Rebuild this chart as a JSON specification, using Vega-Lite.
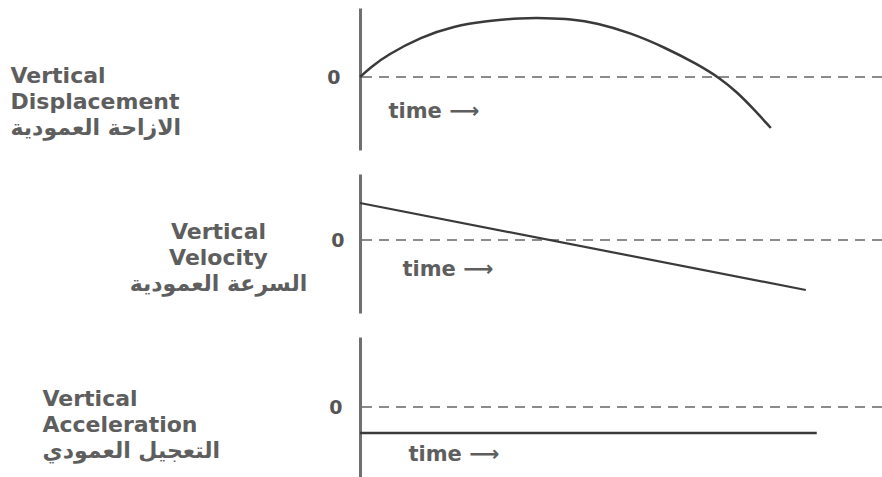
{
  "$schema": "https://vega.github.io/schema/vega-lite/v6.json",
  "padding": {"left": 10, "top": 8, "right": 0, "bottom": 0},
  "background": "white",
  "spacing": 24,
  "bounds": "flush",
  "config": {
    "view": {"stroke": null},
    "font": "DejaVu Sans",
    "axis": {
      "grid": false,
      "domainColor": "#707070",
      "domainWidth": 3,
      "ticks": false,
      "tickSize": 0,
      "labelFont": "DejaVu Sans",
      "labelFontWeight": "bold",
      "labelFontSize": 19,
      "labelColor": "#555555",
      "titleFont": "DejaVu Sans",
      "titleFontWeight": "bold",
      "titleColor": "#5e5e5e"
    }
  },
  "datasets": {
    "displacement": [
      {"time": 0, "value": 0},
      {"time": 0.21, "value": 1.0},
      {"time": 0.52, "value": 2.2},
      {"time": 1.17, "value": 4.0},
      {"time": 1.8, "value": 5.1},
      {"time": 2.43, "value": 5.6},
      {"time": 3.08, "value": 5.9},
      {"time": 3.54, "value": 5.9},
      {"time": 4.04, "value": 5.8},
      {"time": 4.54, "value": 5.4},
      {"time": 5.19, "value": 4.4},
      {"time": 5.82, "value": 3.0},
      {"time": 6.46, "value": 1.3},
      {"time": 6.92, "value": -0.2},
      {"time": 7.22, "value": -1.5},
      {"time": 7.55, "value": -3.25},
      {"time": 7.87, "value": -5.1}
    ],
    "velocity": [
      {"time": 0, "value": 3.7},
      {"time": 8.54, "value": -5.0}
    ],
    "acceleration": [
      {"time": 0, "value": -2.6},
      {"time": 8.75, "value": -2.6}
    ],
    "zero": [{"value": 0}]
  },
  "vconcat": [
    {
      "width": 522,
      "height": 142,
      "layer": [
        {
          "data": {"name": "zero"},
          "mark": {"type": "rule", "strokeDash": [10, 7], "color": "#666666", "strokeWidth": 1.5},
          "encoding": {
            "y": {
              "field": "value", "type": "quantitative", "scale": {"domain": [-7.3, 6.9]},
              "axis": {"values": [0], "labelPadding": 20, "title": ["Vertical", "Displacement", "الازاحة العمودية"], "titleAngle": 0, "titleAlign": "left", "titleBaseline": "alphabetic", "titleX": -350, "titleY": 74, "titleFontSize": 22, "titleLineHeight": 26}
            }
          }
        },
        {
          "data": {"name": "displacement"},
          "mark": {"type": "line", "interpolate": "basis", "color": "#3a3a3a", "strokeWidth": 2.5},
          "encoding": {
            "x": {
              "field": "time", "type": "quantitative", "scale": {"domain": [0, 10]},
              "axis": {"domain": false, "labels": false, "title": "time   ⟶", "titleFontSize": 21, "titleAlign": "left", "titleBaseline": "alphabetic", "titleX": 28, "titleY": -33}
            },
            "y": {
              "field": "value", "type": "quantitative", "scale": {"domain": [-7.3, 6.9]},
              "axis": {"values": [0], "labelPadding": 20, "title": ["Vertical", "Displacement", "الازاحة العمودية"], "titleAngle": 0, "titleAlign": "left", "titleBaseline": "alphabetic", "titleX": -350, "titleY": 74, "titleFontSize": 22, "titleLineHeight": 26}
            }
          }
        }
      ]
    },
    {
      "width": 522,
      "height": 139,
      "layer": [
        {
          "data": {"name": "zero"},
          "mark": {"type": "rule", "strokeDash": [10, 7], "color": "#666666", "strokeWidth": 1.5},
          "encoding": {
            "y": {
              "field": "value", "type": "quantitative", "scale": {"domain": [-7.3, 6.6]},
              "axis": {"values": [0], "labelPadding": 16, "title": ["Vertical", "Velocity", "السرعة العمودية"], "titleAngle": 0, "titleAlign": "center", "titleBaseline": "alphabetic", "titleX": -142, "titleY": 64, "titleFontSize": 22, "titleLineHeight": 26}
            }
          }
        },
        {
          "data": {"name": "velocity"},
          "mark": {"type": "line", "color": "#3a3a3a", "strokeWidth": 2.2},
          "encoding": {
            "x": {
              "field": "time", "type": "quantitative", "scale": {"domain": [0, 10]},
              "axis": {"domain": false, "labels": false, "title": "time   ⟶", "titleFontSize": 21, "titleAlign": "left", "titleBaseline": "alphabetic", "titleX": 42, "titleY": -38}
            },
            "y": {
              "field": "value", "type": "quantitative", "scale": {"domain": [-7.3, 6.6]},
              "axis": {"values": [0], "labelPadding": 16, "title": ["Vertical", "Velocity", "السرعة العمودية"], "titleAngle": 0, "titleAlign": "center", "titleBaseline": "alphabetic", "titleX": -142, "titleY": 64, "titleFontSize": 22, "titleLineHeight": 26}
            }
          }
        }
      ]
    },
    {
      "width": 522,
      "height": 140,
      "layer": [
        {
          "data": {"name": "zero"},
          "mark": {"type": "rule", "strokeDash": [10, 7], "color": "#666666", "strokeWidth": 1.5},
          "encoding": {
            "y": {
              "field": "value", "type": "quantitative", "scale": {"domain": [-7, 7]},
              "axis": {"values": [0], "labelPadding": 18, "title": ["Vertical", "Acceleration", "التعجيل العمودي"], "titleAngle": 0, "titleAlign": "left", "titleBaseline": "alphabetic", "titleX": -318, "titleY": 68, "titleFontSize": 22, "titleLineHeight": 26}
            }
          }
        },
        {
          "data": {"name": "acceleration"},
          "mark": {"type": "line", "color": "#3a3a3a", "strokeWidth": 2.5},
          "encoding": {
            "x": {
              "field": "time", "type": "quantitative", "scale": {"domain": [0, 10]},
              "axis": {"domain": false, "labels": false, "title": "time   ⟶", "titleFontSize": 21, "titleAlign": "left", "titleBaseline": "alphabetic", "titleX": 48, "titleY": -17}
            },
            "y": {
              "field": "value", "type": "quantitative", "scale": {"domain": [-7, 7]},
              "axis": {"values": [0], "labelPadding": 18, "title": ["Vertical", "Acceleration", "التعجيل العمودي"], "titleAngle": 0, "titleAlign": "left", "titleBaseline": "alphabetic", "titleX": -318, "titleY": 68, "titleFontSize": 22, "titleLineHeight": 26}
            }
          }
        }
      ]
    }
  ]
}
